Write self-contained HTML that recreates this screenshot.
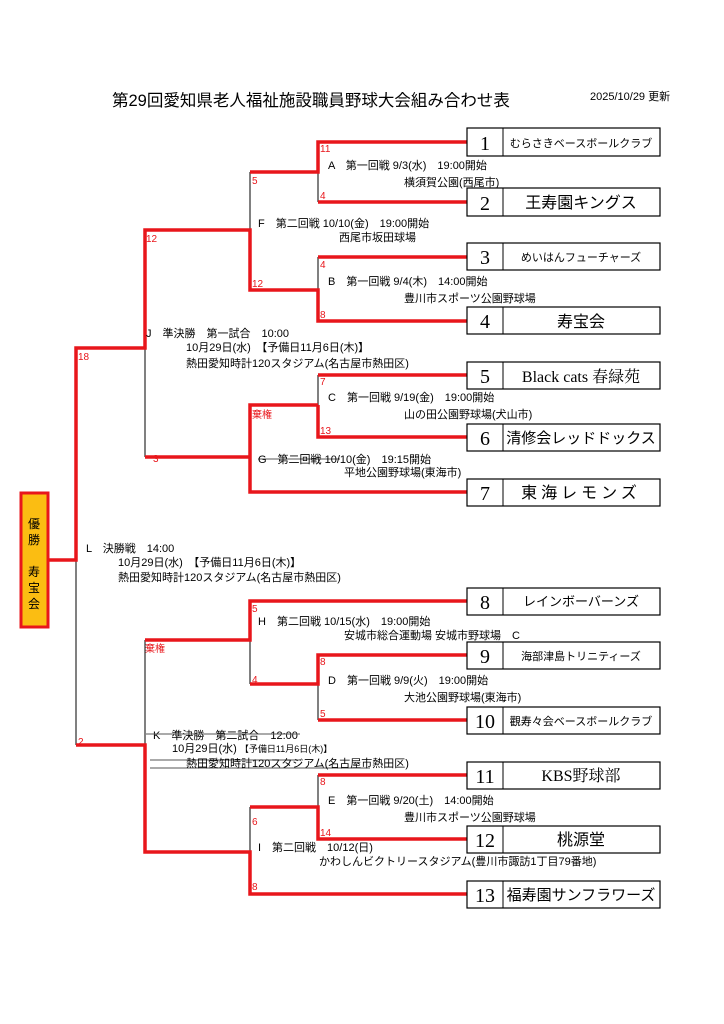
<!DOCTYPE html>
<html><head><meta charset="utf-8"><style>
html,body{margin:0;padding:0;background:#fff;}
svg{display:block;font-family:"Liberation Sans","Noto Sans CJK JP",sans-serif;}
.r{stroke:#e8161b;stroke-width:3.5;fill:none;}
.k{stroke:#000;stroke-width:1;fill:none;}
.s{fill:#e8161b;font-size:10px;}
.t{font-size:11px;fill:#000;}
.bx{fill:#fff;stroke:#000;stroke-width:1.2;}
.n{font-size:20px;font-family:"Liberation Serif","Noto Serif CJK SC",serif;text-anchor:middle;}
.nm{text-anchor:middle;}
</style></head><body>
<svg width="724" height="1024" viewBox="0 0 724 1024">
<text x="112" y="106" font-size="16.5">第29回愛知県老人福祉施設職員野球大会組み合わせ表</text>
<text x="590" y="100" font-size="11">2025/10/29  更新</text>

<g class="k">
<path d="M318 172V202"/><path d="M250 172V230"/><path d="M318 257V290"/>
<path d="M145 348V457"/><path d="M318 375V405"/>
<path d="M76 560V745"/><path d="M250 640V684"/><path d="M318 684V720"/>
<path d="M145 640V745"/><path d="M250 807V852"/><path d="M318 775V807"/>
</g>
<g class="r">
<path d="M467 142H318V172H250"/><path d="M318 202H467"/>
<path d="M467 257H318"/><path d="M467 321H318V290H250V230H145V348H76V560H49"/>
<path d="M467 375H318"/><path d="M318 405V437H467M318 405H250V492H467M250 457H145"/>
<path d="M467 601H250V640H145"/><path d="M467 655H318V684H250M318 720H467"/>
<path d="M76 745H145V852H250V894H467"/><path d="M467 775H318M250 807H318V839H467"/>
</g>
<g stroke="#555" stroke-width="1"><path d="M258 459H340"/><path d="M150 760H300M150 768H370"/></g>

<rect x="21" y="493" width="27" height="134" fill="#fbbd12" stroke="#e8161b" stroke-width="3"/>
<text x="34" y="528" font-size="12" text-anchor="middle">優</text>
<text x="34" y="544" font-size="12" text-anchor="middle">勝</text>
<text x="34" y="576" font-size="12" text-anchor="middle">寿</text>
<text x="34" y="592" font-size="12" text-anchor="middle">宝</text>
<text x="34" y="608" font-size="12" text-anchor="middle">会</text>

<g>
<rect class="bx" x="467" y="128" width="193" height="28"/><path class="k" d="M503 128V156"/><text class="n" x="485" y="150">1</text><text class="nm" x="581" y="147" font-size="11">むらさきベースボールクラブ</text>
<rect class="bx" x="467" y="188" width="193" height="28"/><path class="k" d="M503 188V216"/><text class="n" x="485" y="210">2</text><text class="nm" x="581" y="208" font-size="16">王寿園キングス</text>
<rect class="bx" x="467" y="243" width="193" height="27"/><path class="k" d="M503 243V270"/><text class="n" x="485" y="264">3</text><text class="nm" x="581" y="261" font-size="11">めいはんフューチャーズ</text>
<rect class="bx" x="467" y="307" width="193" height="27"/><path class="k" d="M503 307V334"/><text class="n" x="485" y="328">4</text><text class="nm" x="581" y="327" font-size="16">寿宝会</text>
<rect class="bx" x="467" y="362" width="193" height="27"/><path class="k" d="M503 362V389"/><text class="n" x="485" y="383">5</text><text class="nm" x="581" y="382" font-size="16" font-family="Liberation Serif,Noto Serif CJK SC,serif">Black cats 春緑苑</text>
<rect class="bx" x="467" y="424" width="193" height="27"/><path class="k" d="M503 424V451"/><text class="n" x="485" y="445">6</text><text class="nm" x="581" y="443" font-size="15">清修会レッドドックス</text>
<rect class="bx" x="467" y="479" width="193" height="27"/><path class="k" d="M503 479V506"/><text class="n" x="485" y="500">7</text><text class="nm" x="581" y="498" font-size="16" letter-spacing="4">東海レモンズ</text>
<rect class="bx" x="467" y="588" width="193" height="27"/><path class="k" d="M503 588V615"/><text class="n" x="485" y="609">8</text><text class="nm" x="581" y="606" font-size="13">レインボーバーンズ</text>
<rect class="bx" x="467" y="642" width="193" height="27"/><path class="k" d="M503 642V669"/><text class="n" x="485" y="663">9</text><text class="nm" x="581" y="660" font-size="11">海部津島トリニティーズ</text>
<rect class="bx" x="467" y="707" width="193" height="27"/><path class="k" d="M503 707V734"/><text class="n" x="485" y="728">10</text><text class="nm" x="581" y="725" font-size="11">觀寿々会ベースボールクラブ</text>
<rect class="bx" x="467" y="762" width="193" height="27"/><path class="k" d="M503 762V789"/><text class="n" x="485" y="783">11</text><text class="nm" x="581" y="781" font-size="16" font-family="Liberation Serif,Noto Serif CJK SC,serif">KBS野球部</text>
<rect class="bx" x="467" y="826" width="193" height="27"/><path class="k" d="M503 826V853"/><text class="n" x="485" y="847">12</text><text class="nm" x="581" y="845" font-size="16">桃源堂</text>
<rect class="bx" x="467" y="881" width="193" height="27"/><path class="k" d="M503 881V908"/><text class="n" x="485" y="902">13</text><text class="nm" x="581" y="900" font-size="15">福寿園サンフラワーズ</text>
</g>

<g class="s">
<text x="320" y="152">11</text><text x="320" y="199">4</text><text x="252" y="184">5</text>
<text x="320" y="268">4</text><text x="320" y="318">8</text><text x="252" y="287">12</text>
<text x="146" y="242">12</text><text x="78" y="360">18</text>
<text x="320" y="385">7</text><text x="320" y="434">13</text><text x="252" y="418">棄権</text><text x="153" y="462">3</text>
<text x="252" y="612">5</text><text x="252" y="683">4</text><text x="145" y="652">棄権</text>
<text x="320" y="665">8</text><text x="320" y="717">5</text><text x="78" y="745">2</text>
<text x="320" y="785">8</text><text x="320" y="836">14</text><text x="252" y="825">6</text><text x="252" y="890">8</text>
</g>

<g class="t">
<text x="328" y="169">A　第一回戦  9/3(水)　19:00開始</text>
<text x="404" y="186">横須賀公園(西尾市)</text>
<text x="258" y="227">F　第二回戦  10/10(金)　19:00開始</text>
<text x="339" y="241">西尾市坂田球場</text>
<text x="328" y="285">B　第一回戦  9/4(木)　14:00開始</text>
<text x="404" y="302">豊川市スポーツ公園野球場</text>
<text x="146" y="337">J　準決勝　第一試合　10:00</text>
<text x="186" y="351">10月29日(水)　【予備日11月6日(木)】</text>
<text x="186" y="367">熱田愛知時計120スタジアム(名古屋市熱田区)</text>
<text x="328" y="401">C　第一回戦  9/19(金)　19:00開始</text>
<text x="404" y="418">山の田公園野球場(犬山市)</text>
<text x="258" y="463">G　第二回戦  10/10(金)　19:15開始</text>
<text x="344" y="476">平地公園野球場(東海市)</text>
<text x="86" y="552">L　決勝戦　14:00</text>
<text x="118" y="566">10月29日(水)　【予備日11月6日(木)】</text>
<text x="118" y="581">熱田愛知時計120スタジアム(名古屋市熱田区)</text>
<text x="258" y="625">H　第二回戦  10/15(水)　19:00開始</text>
<text x="344" y="639">安城市総合運動場  安城市野球場　C</text>
<text x="328" y="684">D　第一回戦  9/9(火)　19:00開始</text>
<text x="404" y="701">大池公園野球場(東海市)</text>
<text x="153" y="739">K　準決勝　第二試合　12:00</text>
<text x="172" y="752">10月29日(水)  <tspan font-size="9">【予備日11月6日(木)】</tspan></text>
<text x="186" y="767">熱田愛知時計120スタジアム(名古屋市熱田区)</text>
<text x="328" y="804">E　第一回戦  9/20(土)　14:00開始</text>
<text x="404" y="821">豊川市スポーツ公園野球場</text>
<text x="258" y="851">I　第二回戦　10/12(日)</text>
<text x="319" y="865">かわしんビクトリースタジアム(豊川市諏訪1丁目79番地)</text>
</g>
<path stroke="#555" stroke-width="1" d="M146 734H300"/>
</svg>
</body></html>
